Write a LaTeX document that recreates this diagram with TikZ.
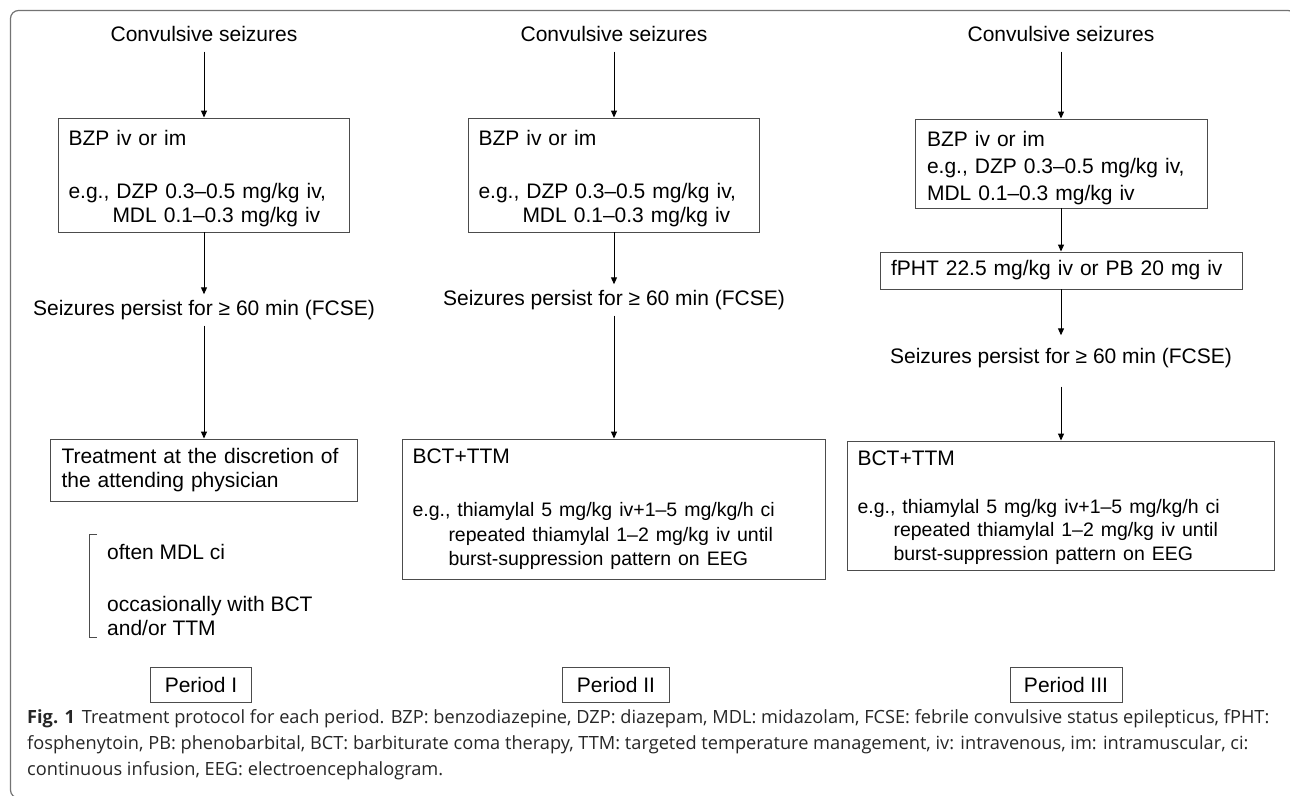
\documentclass[tikz,border=0pt]{standalone}
\usepackage{fontspec}
\setmainfont{Liberation Sans}
\newfontfamily\capfont{Open Sans}
\usetikzlibrary{arrows.meta}

\begin{document}
\begin{tikzpicture}[x=1pt,y=-1pt,
  >={Triangle[length=7pt,width=6pt]},
  every node/.style={font=\fontsize{21}{24}\selectfont},
  flowtext/.style={inner xsep=0pt,inner ysep=6pt,text height=15pt,text depth=4pt},
  stepbox/.style={draw=black!70,line width=0.9pt,align=left,inner xsep=10pt,inner ysep=0pt},
  periodbox/.style={draw=black!70,line width=0.9pt,inner xsep=14pt,inner ysep=0pt,minimum height=35pt}]
  \useasboundingbox (0,0) rectangle (1290,795);
  \clip (0,0) rectangle (1290,795);
  % Frame of the figure
  \draw[black!55,line width=1.2pt,rounded corners=8pt] (10.5,10.5) rectangle (1296,798);
  % Period I
  \node[flowtext] (conv1) at (204,36) {Convulsive seizures};
  \node[stepbox,text width=271pt,minimum height=114pt] (bzp1) at (204,175)
    {\rule{0pt}{22pt}BZP iv or im\\[29pt]e.g., DZP 0.3–0.5 mg/kg iv,\\\hspace*{44pt}MDL 0.1–0.3 mg/kg iv};
  \node[flowtext] (fcse1) at (204,310) {Seizures persist for ≥ 60 min (FCSE)};
  \node[stepbox,text width=285pt,minimum height=62pt,inner xsep=11pt] (treat1) at (204,470)
    {Treatment at the discretion of\\the attending physician};
  \node[anchor=west,align=left,inner sep=0pt] (note1) at (107,590)
    {often MDL ci\\[28pt]occasionally with BCT\\and/or TTM};
  \draw[black!70,line width=0.9pt] (97,534) -- (89,534) -- (89,637) -- (97,637);
  \node[periodbox] (period1) at (201,684.5) {Period I};
  % Period II
  \node[flowtext] (conv2) at (614,36) {Convulsive seizures};
  \node[stepbox,text width=271pt,minimum height=114pt] (bzp2) at (614,175)
    {\rule{0pt}{22pt}BZP iv or im\\[29pt]e.g., DZP 0.3–0.5 mg/kg iv,\\\hspace*{44pt}MDL 0.1–0.3 mg/kg iv};
  \node[flowtext] (fcse2) at (614,300) {Seizures persist for ≥ 60 min (FCSE)};
  \node[stepbox,text width=403pt,minimum height=140pt] (bct2) at (614,509)
    {BCT+TTM\\[28pt]\fontsize{19.5}{25}\selectfont
     e.g., thiamylal 5 mg/kg iv+1–5 mg/kg/h ci\\
     \hspace*{36pt}repeated thiamylal 1–2 mg/kg iv until\\
     \hspace*{36pt}burst-suppression pattern on EEG};
  \node[periodbox] (period2) at (616,684.5) {Period II};
  % Period III
  \node[flowtext] (conv3) at (1061,36) {Convulsive seizures};
  \node[stepbox,text width=268pt,minimum height=89pt,inner xsep=12pt] (bzp3) at (1061,163.5)
    {\rule{0pt}{24pt}BZP iv or im\\[3pt]e.g., DZP 0.3–0.5 mg/kg iv,\\[3pt]MDL 0.1–0.3 mg/kg iv};
  \node[stepbox,text width=340pt,minimum height=37pt,inner xsep=11pt] (fpht3) at (1061,270.5)
    {fPHT 22.5 mg/kg iv or PB 20 mg iv};
  \node[flowtext] (fcse3) at (1061,358) {Seizures persist for ≥ 60 min (FCSE)};
  \node[stepbox,text width=407pt,minimum height=129pt] (bct3) at (1061,505.5)
    {\rule{0pt}{20pt}BCT+TTM\\[25pt]\fontsize{19.5}{23}\selectfont
     e.g., thiamylal 5 mg/kg iv+1–5 mg/kg/h ci\\
     \hspace*{36pt}repeated thiamylal 1–2 mg/kg iv until\\
     \hspace*{36pt}burst-suppression pattern on EEG};
  \node[periodbox] (period3) at (1066,684.5) {Period III};
  % Arrows
  \draw[line width=1pt,->] (conv1) -- (bzp1);
  \draw[line width=1pt,->] (bzp1) -- (fcse1);
  \draw[line width=1pt,->] (fcse1) -- (treat1);
  \draw[line width=1pt,->] (conv2) -- (bzp2);
  \draw[line width=1pt,->] (bzp2) -- (fcse2);
  \draw[line width=1pt,->] (fcse2) -- (bct2);
  \draw[line width=1pt,->] (conv3) -- (bzp3);
  \draw[line width=1pt,->] (bzp3) -- (fpht3);
  \draw[line width=1pt,->,shorten >=7pt] (fpht3) -- (fcse3);
  \draw[line width=1pt,->,shorten <=13pt] (fcse3) -- (bct3);
  % Caption
  \node[anchor=north west,align=left,inner sep=0pt,text=black!85,
        font=\capfont\fontsize{18.2}{26}\selectfont] (caption) at (27,709)
    {\textbf{Fig. 1}\hspace{7pt}Treatment protocol for each period. BZP: benzodiazepine, DZP: diazepam, MDL: midazolam, FCSE: febrile convulsive status epilepticus, fPHT:\\
     fosphenytoin, PB: phenobarbital, BCT: barbiturate coma therapy, TTM: targeted temperature management, iv: intravenous, im: intramuscular, ci:\\
     continuous infusion, EEG: electroencephalogram.};
\end{tikzpicture}
\end{document}
